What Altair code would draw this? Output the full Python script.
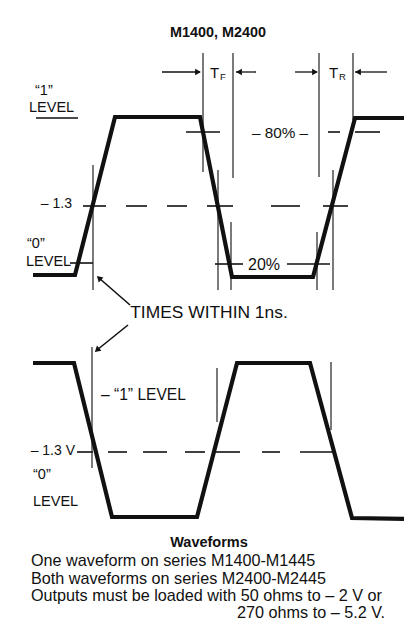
import altair as alt
import pandas as pd

# ---------------- data (diagram coordinates: x = time axis, y = level axis, page-pixel units) -------------
# Upper waveform (M1400 / M2400 output)
wave1_x = [33, 75, 115, 200, 232, 313, 355, 406]
wave1_y = [275, 275, 117, 117, 277, 277, 118, 118]
# Lower waveform (complementary output)
wave2_x = [33, 74, 112, 197, 237, 310, 352, 406]
wave2_y = [363, 363, 517, 517, 363, 363, 518, 519]

# thin vertical reference lines: x, y-start, y-end
vline_x = [203, 233, 319, 353, 93, 218, 231, 317, 333, 92, 217, 331]
vline_y1 = [53, 53, 53, 53, 165, 170, 222, 232, 170, 347, 368, 362]
vline_y2 = [172, 178, 177, 120, 290, 290, 290, 290, 290, 468, 422, 430]

# horizontal level segments: x-start, x-end, y
hseg_x1 = [36, 186, 328, 355, 83, 126, 167, 207, 271, 323, 70, 215, 287,
           77, 108, 143, 185, 215, 262, 300]
hseg_x2 = [78, 220, 340, 380, 106, 147, 187, 233, 300, 348, 93, 243, 330,
           93, 127, 167, 205, 240, 280, 333]
hseg_y = [118, 132, 132, 132, 206, 206, 206, 206, 206, 206, 263, 264, 264,
          452, 452, 452, 452, 452, 452, 452]

# timing arrows (shaft x-start, x-end, y) and their heads
arrow_x1 = [162, 236, 295, 355]
arrow_x2 = [200, 256, 317, 387]
arrow_y = [72, 72, 72, 72]
head_x = [198, 239, 315, 358]
head_y = [72, 72, 72, 72]
head_angle = [90, 270, 90, 270]

# "TIMES WITHIN 1ns." pointers
ptr_x1 = [130, 128]
ptr_y1 = [305, 325]
ptr_x2 = [99, 97]
ptr_y2 = [278, 350]
ptr_angle = [313, 229]

# text labels
lab_text = ["M1400, M2400", "T", "T", "\u201c1\u201d", "LEVEL", "\u2013 80% \u2013",
            "\u2013 1.3", "\u201c0\u201d", "LEVEL", "20%", "TIMES WITHIN 1ns.",
            "\u2013 \u201c1\u201d LEVEL", "\u2013 1.3 V", "\u201c0\u201d", "LEVEL"]
lab_x = [218, 210, 329, 35, 29, 280, 72, 27, 26, 264, 209, 101, 75, 33, 33]
lab_y = [33, 73, 73, 91, 108, 133, 204, 244, 262, 265, 313, 395, 451, 475, 502]
lab_size = [14.4, 15, 15, 14.5, 14.5, 15.3, 14, 14.5, 14.5, 16, 17.4, 15.6, 14, 14.5, 14.5]
lab_weight = ["bold"] + ["normal"] * 14
lab_align = ["center", "left", "left", "left", "left", "center", "right", "left",
             "left", "center", "center", "left", "right", "left", "left"]

sub_text = ["F", "R"]
sub_x = [220, 339]
sub_y = [77, 77]

note_text = ["Waveforms", "One waveform on series M1400-M1445",
             "Both waveforms on series M2400-M2445",
             "Outputs must be loaded with 50 ohms to  \u2013 2 V or",
             "270 ohms to  \u2013 5.2 V."]
note_x = [209, 31, 31, 31, 385]
note_y = [543, 561, 578.5, 596, 613]
note_size = [14.5, 16.2, 16.2, 16.2, 16.2]
note_weight = ["bold", "normal", "normal", "normal", "normal"]
note_align = ["center", "left", "left", "left", "right"]

# ---------------- chart ----------------
FONT = "Liberation Sans"
W, H = 396, 623
xs = alt.Scale(domain=[8, 404], nice=False, zero=False)
ys = alt.Scale(domain=[8, 631], nice=False, zero=False, reverse=True)
X = lambda f: alt.X(f, type="quantitative", scale=xs, axis=None)
Y = lambda f: alt.Y(f, type="quantitative", scale=ys, axis=None)

waves = pd.DataFrame({
    "x": wave1_x + wave2_x,
    "y": wave1_y + wave2_y,
    "w": ["upper"] * len(wave1_x) + ["lower"] * len(wave2_x),
    "i": list(range(len(wave1_x))) + list(range(len(wave2_x))),
})
wave_layer = alt.Chart(waves).mark_line(
    color="#111", strokeWidth=4.2, strokeJoin="miter", strokeCap="butt"
).encode(x=X("x"), y=Y("y"), detail="w:N", order="i:Q")

vl = pd.DataFrame({"x": vline_x, "y1": vline_y1, "y2": vline_y2})
vline_layer = alt.Chart(vl).mark_rule(color="#222", strokeWidth=1.2).encode(
    x=X("x"), y=Y("y1"), y2="y2:Q")

hs = pd.DataFrame({"x1": hseg_x1, "x2": hseg_x2, "y": hseg_y})
hseg_layer = alt.Chart(hs).mark_rule(color="#111", strokeWidth=1.6).encode(
    x=X("x1"), x2="x2:Q", y=Y("y"))

ar = pd.DataFrame({"x1": arrow_x1, "x2": arrow_x2, "y": arrow_y})
arrow_layer = alt.Chart(ar).mark_rule(color="#111", strokeWidth=1.3).encode(
    x=X("x1"), x2="x2:Q", y=Y("y"))
hd = pd.DataFrame({"x": head_x + ptr_x2, "y": head_y + ptr_y2, "a": head_angle + ptr_angle})
head_layer = alt.Chart(hd).mark_point(
    shape="triangle-up", filled=True, color="#111", size=45, opacity=1
).encode(x=X("x"), y=Y("y"), angle=alt.Angle("a:Q", scale=None))

pt = pd.DataFrame({"x1": ptr_x1, "y1": ptr_y1, "x2": ptr_x2, "y2": ptr_y2})
ptr_layer = alt.Chart(pt).mark_rule(color="#111", strokeWidth=1.6).encode(
    x=X("x1"), y=Y("y1"), x2="x2:Q", y2="y2:Q")

def text_layer(texts, xv, yv, sizes, weights, aligns):
    layers = []
    for t, xx, yy, s, wgt, al in zip(texts, xv, yv, sizes, weights, aligns):
        d = pd.DataFrame({"x": [xx], "y": [yy], "t": [t]})
        layers.append(alt.Chart(d).mark_text(
            font=FONT, fontSize=s, fontWeight=wgt, align=al, baseline="middle", color="#111"
        ).encode(x=X("x"), y=Y("y"), text="t:N"))
    return layers

labels = text_layer(lab_text, lab_x, lab_y, lab_size, lab_weight, lab_align)
subs = text_layer(sub_text, sub_x, sub_y, [9.5, 9.5], ["normal"] * 2, ["left"] * 2)
notes = text_layer(note_text, note_x, note_y, note_size, note_weight, note_align)

chart = alt.layer(
    hseg_layer, vline_layer, arrow_layer, ptr_layer, head_layer, wave_layer,
    *labels, *subs, *notes
).properties(
    width=W, height=H, padding=0, autosize=alt.AutoSizeParams(type="none"),
    background="white"
).configure_view(stroke=None)

chart.save("out.html", embed_options={"renderer": "svg", "actions": False})
